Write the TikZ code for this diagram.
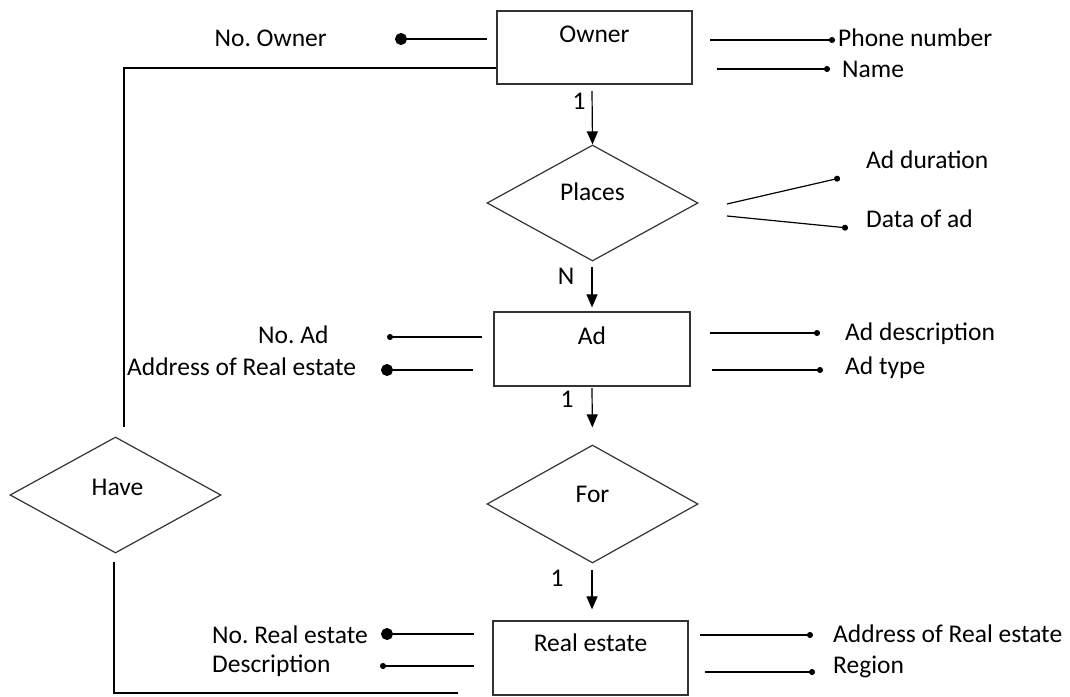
\documentclass[tikz,border=0pt]{standalone}
\usepackage{fontspec}
\setmainfont{Carlito}
\usetikzlibrary{shapes.geometric,arrows.meta,calc}
\frenchspacing
\begin{document}
\begin{tikzpicture}[x=1pt,y=-1pt,
  every node/.style={font=\fontsize{25.5}{29}\selectfont},
  ent/.style={draw=black!80,line width=1.3pt,rectangle,inner sep=0pt},
  rel/.style={draw=black!80,line width=1.2pt,diamond,inner sep=0pt},
  txt/.style={inner sep=0pt,anchor=west},
  conn/.style={line width=1.2pt,black},
  arr/.style={conn,-{Triangle[length=13pt,width=11pt]}},
  sdot/.style={conn,-{Circle[length=6pt]}},
  bdot/.style={conn,-{Circle[length=12pt]}}]
\useasboundingbox (0,0) rectangle (1070,696);
% entities and relationships
\node[ent,minimum width=195pt,minimum height=73pt,label={[yshift=13pt]center:Owner}] (owner) at (594.5,47.5) {};
\node[rel,minimum width=211pt,minimum height=116pt,label={[yshift=11pt]center:Places}] (places) at (592.5,203) {};
\node[ent,minimum width=196pt,minimum height=74pt,label={[yshift=13pt]center:Ad}] (ad) at (592,349) {};
\node[rel,minimum width=211pt,minimum height=118pt,label={[yshift=10pt]center:For}] (for) at (592.5,504) {};
\node[ent,minimum width=195pt,minimum height=74pt,label={[yshift=15pt]center:Real estate}] (real) at (590.5,658) {};
\node[rel,minimum width=211pt,minimum height=116pt,label={[yshift=8pt,xshift=2pt]center:Have}] (have) at (115.5,495) {};
% cardinality labels
\node[inner sep=0pt] (c1) at (579,101) {1};
\node[inner sep=0pt] (cn) at (566,276) {N};
\node[inner sep=0pt] (c2) at (567,399) {1};
\node[inner sep=0pt] (c3) at (557,578) {1};
% main arrows
\coordinate (o1) at (592,91);
\coordinate (p1) at (592,267);
\coordinate (a1) at (592,388);
\coordinate (f1) at (592,570);
\draw[arr] (o1) -- (places.north);
\draw[arr,shorten >=4pt] (p1) -- (ad.north);
\draw[arr,shorten >=17pt] (a1) -- (for.north);
\draw[arr,shorten >=11pt] (f1) -- ($(real.north)+(1.5,0)$);
% Have connections
\coordinate (h1) at (124,427);
\coordinate (h2) at (114,562);
\coordinate (h3) at (458,693);
\draw[conn] ($(owner.west)+(0,20.5)$) -| (h1);
\draw[conn] (h2) |- (h3);
% Owner attributes
\node[txt] (phone) at (838,38) {Phone number};
\node[txt] (name) at (842,69) {Name};
\node[txt,anchor=east] (noowner) at (327,38) {No. Owner};
\coordinate (op) at (710,40);
\coordinate (on) at (717,69);
\coordinate (oo) at (487,39);
\coordinate (ood) at (395,39);
\draw[sdot] (op) -- ($(phone.west)+(-3,2)$);
\draw[sdot] (on) -- ($(name.west)+(-12,0)$);
\draw[bdot] (oo) -- (ood);
% Places attributes
\node[txt] (dur) at (866,160) {Ad duration};
\node[txt] (dat) at (866,219) {Data of ad};
\coordinate (pd) at (727,204);
\coordinate (pt) at (727,216);
\draw[sdot] (pd) -- ($(dur.west)+(-26,18)$);
\draw[sdot] (pt) -- ($(dat.west)+(-18,9)$);
% Ad attributes
\node[txt] (noad) at (258,335) {No. Ad};
\node[txt] (addr1) at (127,367) {Address of Real estate};
\node[txt] (adesc) at (845,334) {Ad description};
\node[txt] (atype) at (845,368) {Ad type};
\coordinate (an) at (482,337);
\coordinate (and) at (387,337);
\coordinate (aa) at (473,370);
\coordinate (aad) at (381,370);
\coordinate (ad1) at (710,333);
\coordinate (at1) at (712,370);
\draw[sdot] (an) -- (and);
\draw[bdot] (aa) -- (aad);
\draw[sdot] (ad1) -- ($(adesc.west)+(-25,-1)$);
\draw[sdot] (at1) -- ($(atype.west)+(-22,2)$);
% Real estate attributes
\node[txt] (noreal) at (212,635) {No. Real estate};
\node[txt] (desc) at (212,666) {Description};
\node[txt] (addr2) at (833,634) {Address of Real estate};
\node[txt] (region) at (833,667) {Region};
\coordinate (rn) at (474,634);
\coordinate (rnd) at (381,634);
\coordinate (rd) at (474,666);
\coordinate (rdd) at (380,666);
\coordinate (ra) at (700,635);
\coordinate (rr) at (705,672);
\draw[bdot] (rn) -- (rnd);
\draw[sdot] (rd) -- (rdd);
\draw[sdot] (ra) -- ($(addr2.west)+(-20,1)$);
\draw[sdot] (rr) -- ($(region.west)+(-18,5)$);
\end{tikzpicture}
\end{document}
